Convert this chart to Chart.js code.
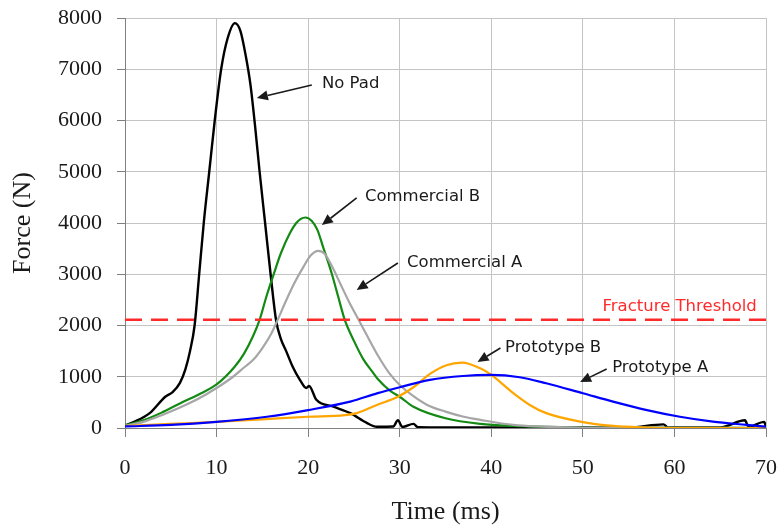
<!DOCTYPE html>
<html>
<head>
<meta charset="utf-8">
<title>Force vs Time</title>
<script src="https://cdn.jsdelivr.net/npm/chart.js@4/dist/chart.umd.min.js"></script>
<style>
  html, body { margin: 0; padding: 0; background: #fff; }
  #wrap { width: 779px; height: 528px; }
</style>
</head>
<body>
<div id="wrap"><canvas id="forceChart" width="779" height="528"></canvas></div>
<script>
// values (time in ms, force in N)
const noPadTime  = [0, 1, 2.7, 4.4, 5.2, 6, 6.6, 7.1, 7.6, 8.1, 8.6, 9.2, 9.8, 10.5, 11.2, 12, 12.6, 13.2, 13.7, 14.2, 14.7, 15.3, 15.9, 16.5, 17, 17.6, 18.3, 19.1, 19.8, 20.1, 20.9, 22.7, 24.6, 26.4, 27.5, 29.3, 29.8, 30.3, 31.5, 32, 35, 40, 45, 50, 55, 58.8, 59.3, 65, 67.7, 68.1, 69.8, 70];
const noPadForce = [50, 120, 290, 610, 700, 880, 1150, 1500, 2000, 3000, 4000, 5000, 6000, 7000, 7600, 7900, 7750, 7250, 6700, 5900, 5000, 4000, 3000, 2100, 1750, 1500, 1200, 940, 780, 820, 550, 420, 290, 100, 25, 30, 150, 20, 80, 15, 10, 10, 15, 15, 10, 70, 10, 10, 150, 20, 120, 20];

const comBTime  = [0, 2, 4, 6, 8, 10, 12, 13, 14, 14.7, 15.5, 16.4, 17, 18, 18.7, 19.2, 19.7, 20.4, 21, 21.6, 22.6, 23.3, 24, 25, 26, 27, 27.6, 29, 30, 31.5, 35, 38.8, 42.4, 50, 60, 70];
const comBForce = [50, 150, 300, 480, 650, 850, 1200, 1450, 1800, 2110, 2600, 3086, 3400, 3800, 4000, 4080, 4107, 4040, 3870, 3550, 3000, 2550, 2110, 1700, 1350, 1100, 957, 720, 610, 415, 190, 80, 40, 10, 5, 0];

const comATime  = [0, 2, 4, 6, 8, 10, 11.8, 13, 14, 15, 16, 16.6, 17.5, 18.5, 19.5, 20.3, 21.1, 21.8, 22.7, 23.5, 24.5, 25.7, 26.5, 27.6, 28.9, 30, 31.5, 33, 35, 37, 38.8, 42.4, 45, 50, 60, 70];
const comAForce = [40, 120, 250, 400, 570, 780, 1000, 1180, 1330, 1560, 1850, 2080, 2450, 2830, 3150, 3370, 3457, 3400, 3120, 2820, 2450, 2050, 1780, 1420, 1060, 840, 620, 450, 320, 220, 160, 60, 30, 10, 5, 0];

const protoBTime  = [0, 5, 10, 15, 20, 24, 25.3, 27.5, 29.8, 31.5, 33.3, 35.1, 36.8, 38.8, 40, 42.4, 44.2, 46, 49.7, 53.3, 57, 60, 70];
const protoBForce = [40, 80, 120, 170, 220, 250, 290, 450, 610, 795, 1055, 1225, 1275, 1165, 1035, 680, 450, 290, 125, 40, 10, 0, 0];

const protoATime  = [0, 5, 10, 15.5, 20, 24.6, 27.6, 30, 33.3, 36.9, 40, 43.1, 46, 50, 53.3, 57, 60.6, 64.2, 67.9, 70];
const protoAForce = [30, 60, 120, 220, 350, 515, 680, 795, 940, 1015, 1035, 990, 873, 678, 515, 350, 220, 125, 60, 25];

const thresholdTime  = [0, 70];
const thresholdForce = [2110, 2110];

const xTicks = [0, 10, 20, 30, 40, 50, 60, 70];
const yTicks = [0, 1000, 2000, 3000, 4000, 5000, 6000, 7000, 8000];

// callout labels, anchored in data units
const callouts = [
    { text: 'No Pad',       at: [21.5, 6712], from: [20.4, 6693], to: [14.4, 6439] },
    { text: 'Commercial B', at: [26.2, 4507], from: [25.3, 4488], to: [21.5, 3961] },
    { text: 'Commercial A', at: [30.8, 3220], from: [29.8, 3220], to: [25.3, 2693] },
    { text: 'Prototype B',  at: [41.5, 1561], from: [41.0, 1561], to: [38.5, 1288] },
    { text: 'Prototype A',  at: [53.2, 1171], from: [52.6, 1151], to: [49.7, 898] },
    { text: 'Fracture Threshold', at: [69.0, 2361], color: '#ff2a2a', align: 'right' }
];

function toPoints(xs, ys) {
    return xs.map((x, i) => ({ x: x, y: ys[i] }));
}

const calloutPlugin = {
    id: 'callouts',
    afterDatasetsDraw(chart) {
        const ctx = chart.ctx;
        const xs = chart.scales.x;
        const ys = chart.scales.y;
        ctx.save();
        ctx.font = '16.5px "DejaVu Sans"';
        ctx.textBaseline = 'middle';
        callouts.forEach(c => {
            ctx.fillStyle = c.color || '#1a1a1a';
            ctx.textAlign = c.align || 'left';
            ctx.fillText(c.text, xs.getPixelForValue(c.at[0]), ys.getPixelForValue(c.at[1]));
            if (!c.from) return;
            const x1 = xs.getPixelForValue(c.from[0]), y1 = ys.getPixelForValue(c.from[1]);
            const x2 = xs.getPixelForValue(c.to[0]), y2 = ys.getPixelForValue(c.to[1]);
            const ang = Math.atan2(y2 - y1, x2 - x1);
            const head = 11, half = 5;
            ctx.strokeStyle = '#1a1a1a';
            ctx.lineWidth = 1.6;
            ctx.beginPath();
            ctx.moveTo(x1, y1);
            ctx.lineTo(x2 - Math.cos(ang) * head, y2 - Math.sin(ang) * head);
            ctx.stroke();
            ctx.fillStyle = '#1a1a1a';
            ctx.beginPath();
            ctx.moveTo(x2, y2);
            ctx.lineTo(x2 - Math.cos(ang) * head - Math.sin(ang) * half, y2 - Math.sin(ang) * head + Math.cos(ang) * half);
            ctx.lineTo(x2 - Math.cos(ang) * head + Math.sin(ang) * half, y2 - Math.sin(ang) * head - Math.cos(ang) * half);
            ctx.closePath();
            ctx.fill();
        });
        ctx.restore();
    }
};

document.addEventListener('DOMContentLoaded', () => {
    const ctx = document.getElementById('forceChart').getContext('2d');
    const serif = 'Liberation Serif';
    const lineSet = (label, xs, ys, color, width) => ({
        label: label,
        data: toPoints(xs, ys),
        borderColor: color,
        borderWidth: width,
        pointRadius: 0,
        cubicInterpolationMode: 'monotone',
        fill: false
    });

    new Chart(ctx, {
        type: 'line',
        data: {
            datasets: [
                {
                    label: 'Fracture Threshold',
                    data: toPoints(thresholdTime, thresholdForce),
                    borderColor: '#ff2a2a',
                    borderWidth: 2.5,
                    borderDash: [17, 9],
                    pointRadius: 0,
                    fill: false
                },
                lineSet('Prototype A', protoATime, protoAForce, '#0000ff', 2.2),
                lineSet('Prototype B', protoBTime, protoBForce, '#ffa500', 2.2),
                lineSet('Commercial A', comATime, comAForce, '#a6a6a6', 2.2),
                lineSet('Commercial B', comBTime, comBForce, '#138a13', 2.2),
                lineSet('No Pad', noPadTime, noPadForce, '#000000', 2.4)
            ]
        },
        options: {
            responsive: false,
            animation: false,
            layout: { padding: { top: 18, right: 0, left: 0, bottom: 0 } },
            plugins: {
                legend: { display: false },
                tooltip: { enabled: false }
            },
            scales: {
                x: {
                    type: 'linear',
                    min: 0,
                    max: 70,
                    afterBuildTicks: axis => { axis.ticks = xTicks.map(v => ({ value: v })); },
                    afterFit: axis => {
                        axis.height = 100;
                        axis.paddingLeft = 0;
                        axis.paddingRight = 13;
                    },
                    ticks: {
                        color: '#1a1a1a',
                        padding: 18,
                        maxRotation: 0,
                        callback: v => String(v),
                        font: { family: serif, size: 22 }
                    },
                    grid: { color: '#c4c4c4', tickColor: '#808080', tickLength: 9, lineWidth: 1 },
                    border: { color: '#808080', width: 1 },
                    title: {
                        display: true,
                        text: 'Time (ms)',
                        color: '#1a1a1a',
                        padding: 0,
                        font: { family: serif, size: 26 }
                    }
                },
                y: {
                    min: 0,
                    max: 8000,
                    afterBuildTicks: axis => { axis.ticks = yTicks.map(v => ({ value: v })); },
                    afterFit: axis => {
                        axis.width = 125;
                        axis.paddingTop = 0;
                        axis.paddingBottom = 0;
                    },
                    ticks: {
                        color: '#1a1a1a',
                        padding: 15,
                        callback: v => String(v),
                        font: { family: serif, size: 22 }
                    },
                    grid: { color: '#c4c4c4', tickColor: '#808080', tickLength: 8, lineWidth: 1 },
                    border: { color: '#808080', width: 1 },
                    title: {
                        display: true,
                        text: 'Force (N)',
                        color: '#1a1a1a',
                        padding: { top: 8, bottom: 0 },
                        font: { family: serif, size: 26 }
                    }
                }
            }
        },
        plugins: [calloutPlugin]
    });
});
</script>
</body>
</html>
